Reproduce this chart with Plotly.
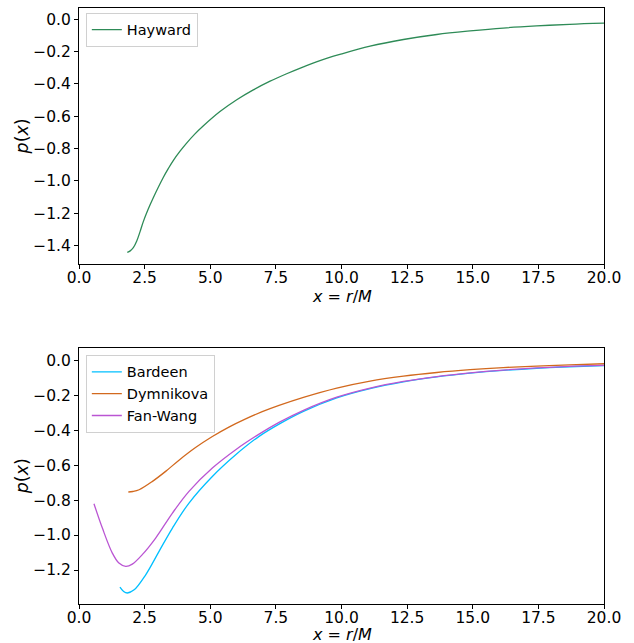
import plotly.graph_objects as go

# Pressure profiles p(x), x = r/M
hayward_x = [1.84, 1.95, 2.07, 2.20, 2.33, 2.45, 2.63, 2.83, 3.21, 3.40, 3.59, 3.85, 4.10, 4.40, 4.74, 5.37, 6.01,
             6.64, 7.28, 7.91, 8.55, 9.18, 9.94, 11.09, 12.36, 13.63, 14.90, 16.16, 17.43, 18.69, 20.0]
hayward_p = [-1.442, -1.433, -1.413, -1.372, -1.312, -1.252, -1.177, -1.104, -0.979, -0.924, -0.874, -0.816, -0.766,
             -0.712, -0.659, -0.571, -0.498, -0.437, -0.383, -0.337, -0.294, -0.255, -0.217, -0.166, -0.125,
             -0.094, -0.072, -0.054, -0.041, -0.031, -0.024]

bardeen_x = [1.56, 1.70, 1.84, 2.10, 2.54, 3.05, 3.56, 4.19, 5.08, 5.97, 6.86, 7.62,
             8.55, 9.82, 11.09, 12.36, 13.63, 14.90, 16.16, 17.43, 18.69, 20.0]
bardeen_p = [-1.297, -1.322, -1.331, -1.313, -1.227, -1.093, -0.960, -0.817, -0.665, -0.541, -0.436, -0.366,
             -0.293, -0.216, -0.163, -0.124, -0.096, -0.075, -0.059, -0.047, -0.038, -0.031]

dymnikova_x = [1.88, 2.05, 2.29, 2.80, 3.30, 3.81, 4.44, 5.08, 5.71, 6.35, 6.98, 7.62,
               8.55, 9.82, 11.09, 12.36, 13.63, 14.90, 16.16, 17.43, 18.69, 20.0]
dymnikova_p = [-0.754, -0.751, -0.741, -0.693, -0.636, -0.572, -0.500, -0.437, -0.383, -0.336, -0.295, -0.259,
               -0.213, -0.160, -0.120, -0.092, -0.071, -0.055, -0.043, -0.034, -0.027, -0.021]

fanwang_x = [0.57, 0.89, 1.27, 1.52, 1.78, 2.03, 2.41, 2.92, 3.56, 4.19, 5.08, 5.97, 6.86, 7.62,
             8.55, 9.82, 11.09, 12.36, 13.63, 14.90, 16.16, 17.43, 18.69, 20.0]
fanwang_p = [-0.821, -0.960, -1.103, -1.160, -1.179, -1.166, -1.112, -1.017, -0.874, -0.750, -0.617, -0.512, -0.423, -0.356,
             -0.287, -0.212, -0.160, -0.122, -0.094, -0.073, -0.057, -0.045, -0.036, -0.030]

x_ticks = [0, 2.5, 5, 7.5, 10, 12.5, 15, 17.5, 20]
x_tick_text = ["0.0", "2.5", "5.0", "7.5", "10.0", "12.5", "15.0", "17.5", "20.0"]
top_y_ticks = [0.0, -0.2, -0.4, -0.6, -0.8, -1.0, -1.2, -1.4]
top_y_text = ["0.0", "\u22120.2", "\u22120.4", "\u22120.6", "\u22120.8", "\u22121.0", "\u22121.2", "\u22121.4"]
bot_y_ticks = [0.0, -0.2, -0.4, -0.6, -0.8, -1.0, -1.2]
bot_y_text = ["0.0", "\u22120.2", "\u22120.4", "\u22120.6", "\u22120.8", "\u22121.0", "\u22121.2"]

X_LABEL = "<i>x</i> = <i>r</i>/<i>M</i>"
Y_LABEL = "<i>p</i>(<i>x</i>)"

FONT = "DejaVu Sans"

fig = go.Figure()
fig.add_trace(go.Scatter(x=hayward_x, y=hayward_p, mode="lines", name="Hayward",
                         line=dict(color="#2e8b57", width=1.3, shape="spline"),
                         xaxis="x", yaxis="y", legend="legend", showlegend=True))
fig.add_trace(go.Scatter(x=bardeen_x, y=bardeen_p, mode="lines", name="Bardeen",
                         line=dict(color="#00bfff", width=1.3, shape="spline"),
                         xaxis="x2", yaxis="y2", legend="legend2", showlegend=True))
fig.add_trace(go.Scatter(x=dymnikova_x, y=dymnikova_p, mode="lines", name="Dymnikova",
                         line=dict(color="#d2691e", width=1.3, shape="spline"),
                         xaxis="x2", yaxis="y2", legend="legend2", showlegend=True))
fig.add_trace(go.Scatter(x=fanwang_x, y=fanwang_p, mode="lines", name="Fan-Wang",
                         line=dict(color="#ba55d3", width=1.3, shape="spline"),
                         xaxis="x2", yaxis="y2", legend="legend2", showlegend=True))

axis_common = dict(showline=True, linecolor="black", linewidth=1, mirror=True,
                   ticks="outside", ticklen=4, tickwidth=1, tickcolor="black",
                   showgrid=False, zeroline=False, automargin=False,
                   tickfont=dict(family=FONT, size=15.5, color="black"))

legend_common = dict(bgcolor="rgba(255,255,255,0.8)", bordercolor="#d0d0d0", borderwidth=1,
                     font=dict(family=FONT, size=14.5, color="black"),
                     xanchor="left", yanchor="top", tracegroupgap=0)

fig.update_layout(
    width=634, height=643,
    margin=dict(l=79, r=30, t=8, b=39),
    paper_bgcolor="white", plot_bgcolor="white",
    showlegend=True,
    xaxis=dict(domain=[0, 1], anchor="y", range=[0, 20], tickvals=x_ticks, ticktext=x_tick_text,
               ticklabelstandoff=-5, **axis_common),
    yaxis=dict(domain=[0.5705, 1], anchor="x", range=[-1.514, 0.070], tickvals=top_y_ticks,
               ticktext=top_y_text, **axis_common),
    xaxis2=dict(domain=[0, 1], anchor="y2", range=[0, 20], tickvals=x_ticks, ticktext=x_tick_text,
                ticklabelstandoff=-5, **axis_common),
    yaxis2=dict(domain=[0, 0.4295], anchor="x2", range=[-1.394, 0.069], tickvals=bot_y_ticks,
                ticktext=bot_y_text, **axis_common),
    legend=dict(x=0.013, y=0.992, **legend_common),
    legend2=dict(x=0.013, y=0.418, **legend_common),
)

# Axis titles for both panels
for ty in (0.5160, -0.0520):
    fig.add_annotation(text=X_LABEL, xref="paper", yref="paper", x=0.5, y=ty,
                       xanchor="center", yanchor="middle", showarrow=False,
                       font=dict(family=FONT, size=16, color="black"))
for ty in (0.785, 0.2148):
    fig.add_annotation(text=Y_LABEL, xref="paper", yref="paper", x=-0.108, y=ty,
                       xanchor="center", yanchor="middle", textangle=-90, showarrow=False,
                       font=dict(family=FONT, size=17.5, color="black"))

fig.write_html("out.html")
